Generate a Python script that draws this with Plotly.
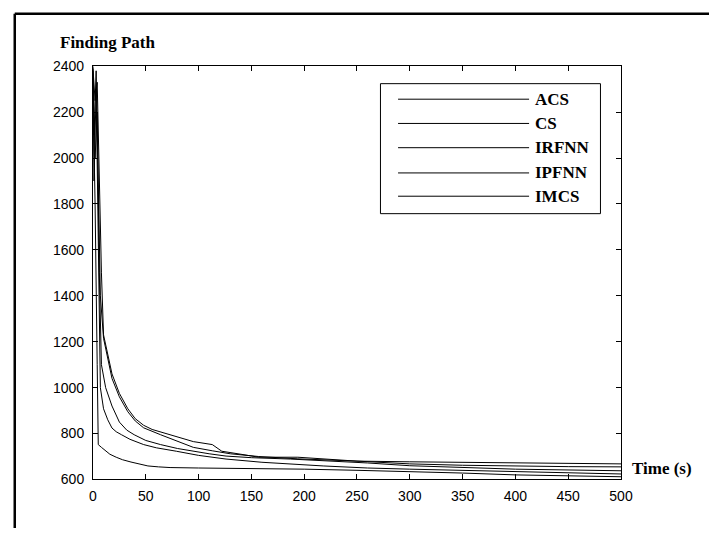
import plotly.graph_objects as go

W, H = 721, 536

# Convergence curves: path length versus time for each algorithm
series_names = ["ACS", "CS", "IRFNN", "IPFNN", "IMCS"]

acs_t = [0, 2, 4, 6, 8, 10, 14, 18, 25, 33, 40, 48, 56, 64, 80, 95, 113, 122, 140, 157, 194, 220, 250, 300, 350, 400, 450, 500]
acs_v = [2390, 2250, 2330, 1900, 1500, 1230, 1150, 1060, 975, 908, 865, 836, 818, 807, 785, 765, 752, 723, 710, 697, 697, 690, 680, 677, 674, 672, 670, 668]

cs_t = [0, 1, 3, 5, 7, 10, 14, 18, 25, 33, 40, 48, 64, 80, 95, 113, 130, 157, 194, 250, 300, 350, 400, 450, 500]
cs_v = [2350, 2100, 2380, 1800, 1400, 1215, 1120, 1040, 960, 895, 855, 825, 795, 765, 740, 725, 712, 700, 690, 680, 668, 662, 658, 656, 655]

irfnn_t = [0, 2, 4, 6, 8, 12, 18, 25, 32, 39, 50, 64, 80, 95, 110, 126, 150, 187, 220, 260, 300, 400, 500]
irfnn_v = [2400, 2000, 2200, 1500, 1100, 1000, 920, 850, 815, 795, 770, 752, 735, 723, 712, 702, 695, 689, 682, 672, 660, 645, 638]

ipfnn_t = [0, 1, 3, 5, 7, 10, 14, 18, 22, 27, 35, 48, 60, 79, 100, 126, 160, 218, 260, 300, 350, 400, 450, 500]
ipfnn_v = [2380, 1900, 2300, 1700, 1000, 908, 860, 824, 808, 795, 775, 752, 738, 723, 705, 689, 675, 659, 650, 645, 640, 635, 628, 624]

imcs_t = [0, 2, 4, 5, 8, 12, 16, 22, 28, 36, 44, 52, 62, 73, 100, 150, 200, 250, 300, 350, 400, 450, 500]
imcs_v = [2300, 1800, 1100, 752, 740, 725, 710, 697, 686, 676, 667, 659, 655, 652, 650, 648, 645, 640, 635, 628, 620, 615, 612]

x_ticks = [0, 50, 100, 150, 200, 250, 300, 350, 400, 450, 500]
y_ticks = [600, 800, 1000, 1200, 1400, 1600, 1800, 2000, 2200, 2400]

data = [(acs_t, acs_v), (cs_t, cs_v), (irfnn_t, irfnn_v), (ipfnn_t, ipfnn_v), (imcs_t, imcs_v)]


def px(x):
    return x / W


def py(y):
    return 1 - y / H


fig = go.Figure()
for name, (t, v) in zip(series_names, data):
    fig.add_trace(go.Scatter(x=t, y=v, mode="lines", name=name,
                             line=dict(color="black", width=1), showlegend=False))

tick_font = dict(family="Liberation Sans, Arial", size=14, color="black")
axis_common = dict(showline=True, linecolor="black", linewidth=1, mirror="ticks",
                   ticks="inside", ticklen=5, tickcolor="black", showgrid=False,
                   zeroline=False, tickfont=tick_font)

fig.update_layout(
    width=W, height=H,
    margin=dict(l=0, r=0, t=0, b=0),
    paper_bgcolor="white", plot_bgcolor="white",
    xaxis=dict(range=[0, 500], tickvals=x_ticks, domain=[px(91), px(631)],
               ticklabelstandoff=4, **axis_common),
    yaxis=dict(range=[600, 2400], tickvals=y_ticks, domain=[py(486), py(60)],
               ticklabelstandoff=5, **axis_common),
)

shapes = []
annotations = []
serif = "Liberation Serif, Times New Roman"

# Outer frame (left and top edges)
shapes.append(dict(type="line", xref="paper", yref="paper", x0=px(11), x1=px(11),
                   y0=0, y1=py(6), line=dict(color="black", width=2.5)))
shapes.append(dict(type="line", xref="paper", yref="paper", x0=px(11), x1=1,
                   y0=py(6), y1=py(6), line=dict(color="black", width=2.5)))

# Legend box with long line samples
shapes.append(dict(type="rect", xref="paper", yref="paper", x0=px(385), x1=px(610),
                   y0=py(212), y1=py(78), line=dict(color="black", width=1),
                   fillcolor="white", layer="above"))
legend_rows = [94, 119, 144, 170, 194]
for name, ry in zip(series_names, legend_rows):
    shapes.append(dict(type="line", xref="paper", yref="paper", x0=px(403), x1=px(537),
                       y0=py(ry), y1=py(ry), line=dict(color="black", width=1), layer="above"))
    annotations.append(dict(text="<b>" + name + "</b>", xref="paper", yref="paper",
                            x=px(541), y=py(ry), xanchor="left", yanchor="middle",
                            showarrow=False,
                            font=dict(family=serif, size=17, color="black")))

annotations.append(dict(text="<b>Finding Path</b>", xref="paper", yref="paper",
                        x=px(106), y=py(36), xanchor="center", yanchor="middle", showarrow=False,
                        font=dict(family=serif, size=17, color="black")))
annotations.append(dict(text="<b>Time (s)</b>", xref="paper", yref="paper",
                        x=px(640), y=py(475), xanchor="left", yanchor="middle", showarrow=False,
                        font=dict(family=serif, size=17, color="black")))

fig.update_layout(shapes=shapes, annotations=annotations)
fig.write_html("out.html")
